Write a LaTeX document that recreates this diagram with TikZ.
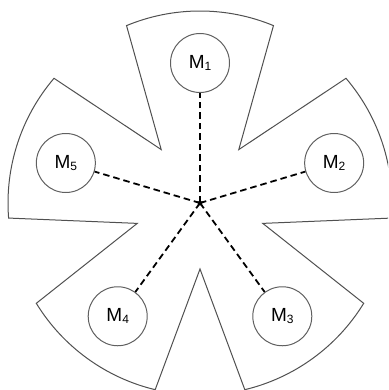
\documentclass[tikz,border=0pt]{standalone}
\usepackage{fontspec}
\setmainfont{Liberation Sans}
\usetikzlibrary{shapes.geometric}
\definecolor{edgegray}{HTML}{505050}
\definecolor{circgray}{HTML}{606060}
\newcommand{\mlabel}[1]{M\raisebox{-2pt}{\fontsize{12}{12}\selectfont #1}}
\tikzset{
  outline/.style={draw=edgegray, line width=1pt, line join=miter},
  machine/.style={circle, draw=circgray, line width=1pt, minimum size=59pt, inner sep=0pt, font=\fontsize{19}{19}\selectfont},
  dashline/.style={draw=black, line width=1.8pt, dash pattern=on 6.5pt off 4pt},
  centerstar/.style={star, star points=5, star point ratio=2.3, fill=black, inner sep=0pt, minimum size=9pt}
}
\begin{document}
\begin{tikzpicture}[x=1pt,y=1pt]
\useasboundingbox (0,0) rectangle (388,390);
\clip (0,0) rectangle (388,390);
\begin{scope}[shift={(200,187)}]
\coordinate (C) at (0,0);
\path[outline] (112.5:192) arc[start angle=112.5,end angle=67.5,radius=192]
  -- (54:66) -- (40.5:192) arc[start angle=40.5,end angle=-4.5,radius=192]
  -- (-18:66) -- (-31.5:192) arc[start angle=-31.5,end angle=-76.5,radius=192]
  -- (-90:66) -- (-103.5:192) arc[start angle=-103.5,end angle=-148.5,radius=192]
  -- (-162:66) -- (-175.5:192) arc[start angle=-175.5,end angle=-220.5,radius=192]
  -- (126:66) -- cycle;
\node[machine] (m1) at (90:140) {\mlabel{1}};
\node[machine] (m2) at (16.6:140) {\mlabel{2}};
\node[machine] (m3) at (-54:140) {\mlabel{3}};
\node[machine] (m4) at (-126:140) {\mlabel{4}};
\node[machine] (m5) at (163.4:140) {\mlabel{5}};
\foreach \m in {m1,m2,m3,m4,m5}{
  \draw[dashline] (C) -- (\m);
}
\node[centerstar] (s) at (C) {};
\end{scope}
\end{tikzpicture}
\end{document}
